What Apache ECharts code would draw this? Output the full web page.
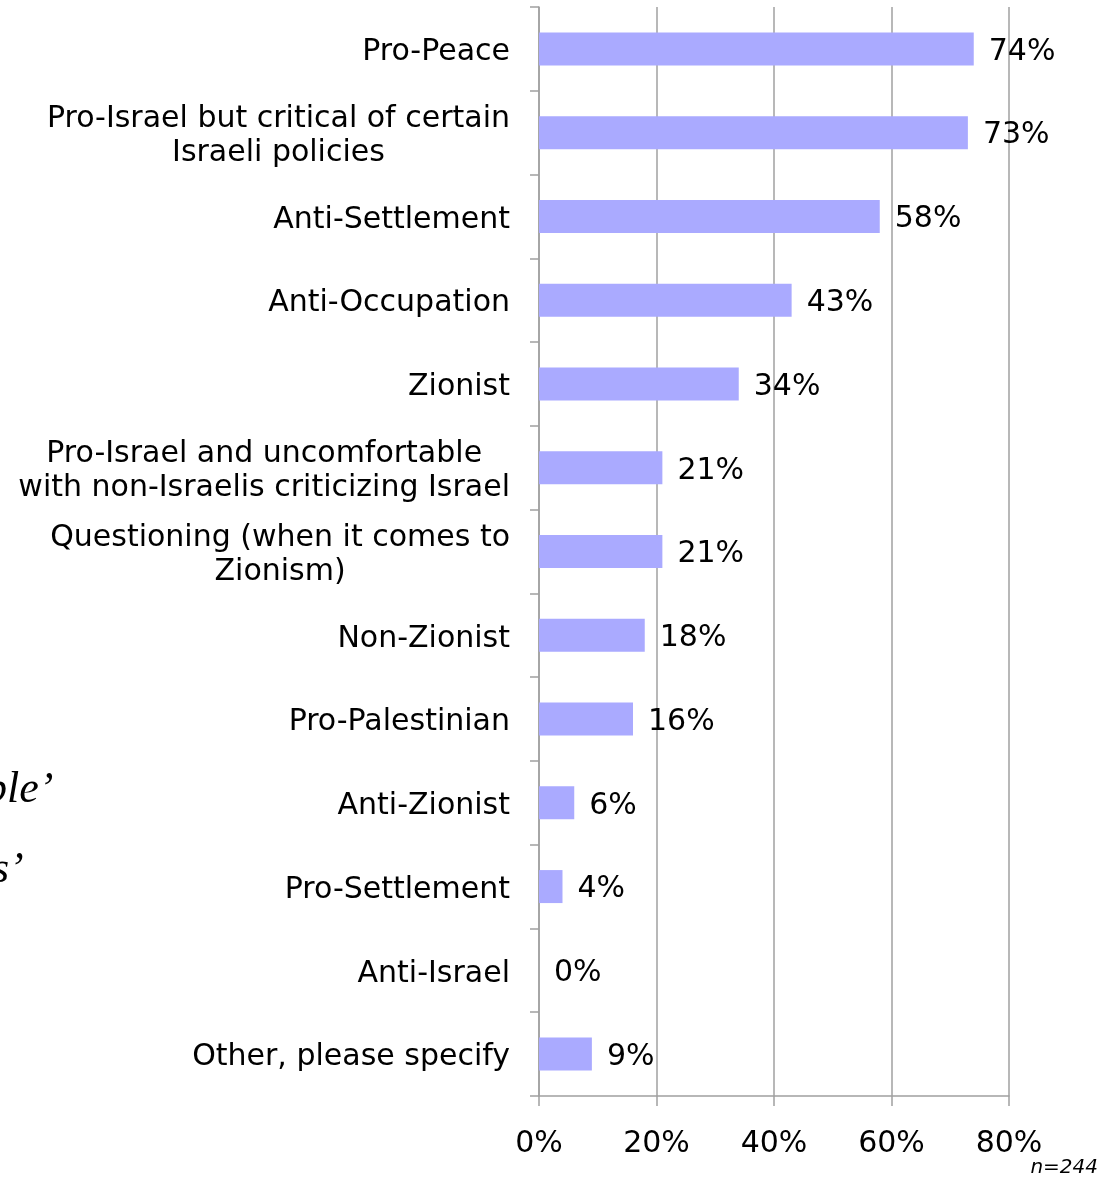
<!DOCTYPE html>
<html>
<head>
<meta charset="utf-8">
<script src="https://cdn.jsdelivr.net/npm/echarts@6/dist/echarts.min.js"></script>
<style>
html,body{margin:0;padding:0;background:#fff;}
#chart{width:1116px;height:1179px;}
</style>
</head>
<body>
<div id="chart"></div>
<script>
var categories = [
  ['Pro-Peace'],
  ['Pro-Israel but critical of certain', 'Israeli policies'],
  ['Anti-Settlement'],
  ['Anti-Occupation'],
  ['Zionist'],
  ['Pro-Israel and uncomfortable', 'with non-Israelis criticizing Israel'],
  ['Questioning (when it comes to', 'Zionism)'],
  ['Non-Zionist'],
  ['Pro-Palestinian'],
  ['Anti-Zionist'],
  ['Pro-Settlement'],
  ['Anti-Israel'],
  ['Other, please specify']
];
var values = [74, 73, 58, 43, 34, 21, 21, 18, 16, 6, 4, 0, 9];
var xTicks = [0, 20, 40, 60, 80];
var note = 'n=244';
var strayTexts = ['ple\u2019', 's\u2019'];

var catNames = categories.map(function (c) { return c.join('\n'); });
var FONT = 'DejaVu Sans';
var FS = 30;
var chart = echarts.init(document.getElementById('chart'), null, {renderer: 'canvas'});
chart.setOption({
  animation: false,
  backgroundColor: '#ffffff',
  grid: {left: 539, right: 107, top: 7, bottom: 83, containLabel: false},
  xAxis: {
    type: 'value',
    min: xTicks[0],
    max: xTicks[xTicks.length - 1],
    interval: xTicks[1] - xTicks[0],
    axisLine: {show: true, lineStyle: {color: '#a0a0a0', width: 1.5}},
    axisTick: {show: true, length: 10, lineStyle: {color: '#a0a0a0', width: 1.5}},
    splitLine: {show: true, lineStyle: {color: '#a0a0a0', width: 1.5}},
    axisLabel: {
      margin: 33,
      color: '#000',
      fontFamily: FONT,
      fontSize: FS,
      formatter: function (v) { return v + '%'; }
    }
  },
  yAxis: {
    type: 'category',
    inverse: true,
    data: catNames,
    axisLine: {show: true, lineStyle: {color: '#a0a0a0', width: 1.5}},
    axisTick: {show: true, length: 9, lineStyle: {color: '#a0a0a0', width: 1.5}},
    splitLine: {show: false},
    axisLabel: {
      margin: 29,
      color: '#000',
      fontFamily: FONT,
      fontSize: FS,
      lineHeight: 34,
      padding: [7, 0, 0, 0],
      formatter: function (v) {
        return v.split('\n').map(function (l) { return '{c|' + l + '}'; }).join('\n');
      },
      rich: {
        c: {align: 'center', fontFamily: FONT, fontSize: FS, lineHeight: 34, color: '#000'}
      }
    }
  },
  series: [{
    type: 'bar',
    data: values,
    barWidth: 33,
    itemStyle: {color: '#aaaaff'},
    label: {
      show: true,
      position: 'right',
      distance: 15,
      offset: [0, 3],
      color: '#000',
      fontFamily: FONT,
      fontSize: FS,
      formatter: function (p) { return p.value + '%'; }
    }
  }],
  graphic: [
    {type: 'text', right: 18, top: 1158, style: {text: note, font: 'italic 20px "DejaVu Sans"', fill: '#000'}},
    {type: 'text', left: -15, top: 768, style: {text: strayTexts[0], font: 'italic 44px "Liberation Serif"', fill: '#000'}},
    {type: 'text', left: -8, top: 848, style: {text: strayTexts[1], font: 'italic 44px "Liberation Serif"', fill: '#000'}}
  ]
});
</script>
</body>
</html>
